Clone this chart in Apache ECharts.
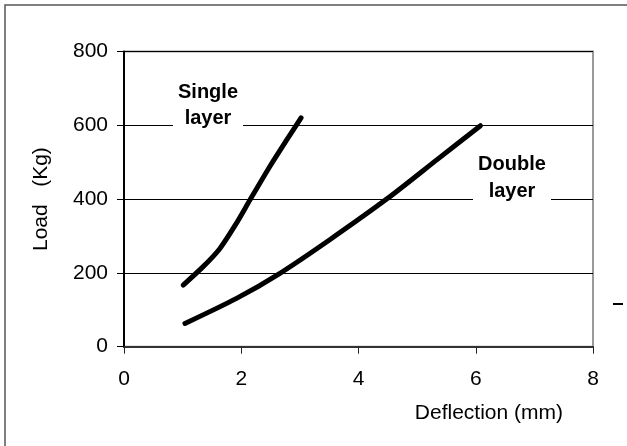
<!DOCTYPE html>
<html><head><meta charset="utf-8">
<script src="https://cdn.jsdelivr.net/npm/echarts@6/dist/echarts.min.js"></script>
<style>html,body{margin:0;padding:0;background:#fff}#c{width:627px;height:446px}</style>
</head><body><div id="c"></div>
<script>
var singleLayer = [[1.01,167],[1.35,217],[1.63,265],[1.9,330],[2.15,398],[2.49,489],[2.77,559],[3.02,620]];
var doubleLayer = [[1.04,63],[1.92,131],[2.66,199],[3.51,290],[4.48,400],[5.34,507],[6.08,599]];
var xTicks = [0,2,4,6,8];
var yTicks = [0,200,400,600,800];
var font = '"Liberation Sans", Arial, sans-serif';
var chart = echarts.init(document.getElementById('c'));
chart.setOption({
  animation:false,
  backgroundColor:'#fff',
  grid:{left:124,right:34,top:51.5,bottom:99.3,show:true,borderColor:'#999',borderWidth:2,backgroundColor:'transparent'},
  xAxis:{type:'value',min:0,max:8,interval:2,
    axisLine:{onZero:false,lineStyle:{color:'#333',width:2}},
    axisTick:{show:true,length:7,lineStyle:{color:'#222'}},
    axisLabel:{color:'#000',fontSize:21,fontFamily:font,margin:22,
      formatter:function(v){return xTicks.indexOf(v)>=0?String(v):'';}},
    splitLine:{show:false}},
  yAxis:{type:'value',min:0,max:800,interval:200,
    name:'Load   (Kg)',nameLocation:'middle',nameGap:72,nameRotate:90,
    nameTextStyle:{color:'#000',fontSize:21,fontFamily:font},
    axisLine:{show:true,lineStyle:{color:'#000',width:2}},
    axisTick:{show:true,length:7,lineStyle:{color:'#000'}},
    axisLabel:{color:'#000',fontSize:21,fontFamily:font,margin:16,
      formatter:function(v){return yTicks.indexOf(v)>=0?String(v):'';}},
    splitLine:{show:true,lineStyle:{color:'#000',width:1}}},
  series:[
    {name:'Single layer',type:'line',data:singleLayer,smooth:0.25,showSymbol:false,
      lineStyle:{color:'#000',width:5,cap:'round'},z:5},
    {name:'Double layer',type:'line',data:doubleLayer,smooth:0.25,showSymbol:false,
      lineStyle:{color:'#000',width:5,cap:'round'},z:5}
  ],
  graphic:[
    {type:'rect',shape:{x:5,y:5,width:700,height:600},style:{fill:'none',stroke:'#555',lineWidth:1.5},z:0,silent:true},
    {type:'line',shape:{x1:613,y1:304,x2:623,y2:304},style:{stroke:'#000',lineWidth:2}},
    {type:'rect',shape:{x:173,y:78,width:70,height:52},style:{fill:'#fff'},z:10},
    {type:'text',x:208,y:92,style:{text:'Single',textAlign:'center',textVerticalAlign:'middle',font:'bold 20px '+font,fill:'#000'},z:11},
    {type:'text',x:208,y:118.5,style:{text:'layer',textAlign:'center',textVerticalAlign:'middle',font:'bold 20px '+font,fill:'#000'},z:11},
    {type:'rect',shape:{x:473,y:150,width:78,height:56},style:{fill:'#fff'},z:10},
    {type:'text',x:512,y:164.5,style:{text:'Double',textAlign:'center',textVerticalAlign:'middle',font:'bold 20px '+font,fill:'#000'},z:11},
    {type:'text',x:512,y:191.5,style:{text:'layer',textAlign:'center',textVerticalAlign:'middle',font:'bold 20px '+font,fill:'#000'},z:11},
    {type:'text',x:563,y:413,style:{text:'Deflection (mm)',textAlign:'right',textVerticalAlign:'middle',font:'21px '+font,fill:'#000'}}
  ]
});
</script></body></html>
